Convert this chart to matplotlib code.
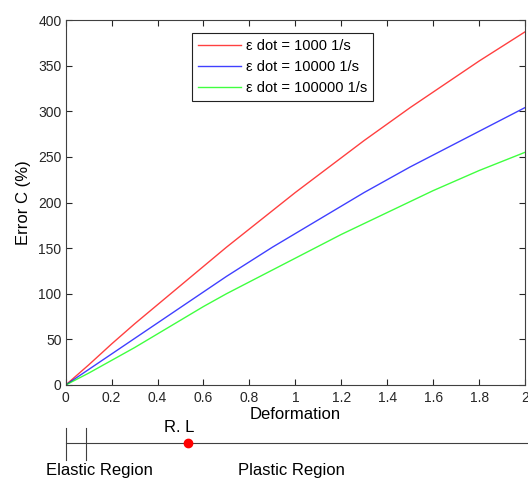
import matplotlib
matplotlib.use("Agg")
import matplotlib.pyplot as plt

plt.rcParams["font.family"] = ["Liberation Sans", "DejaVu Sans"]

# deformation values and error curves
deformation = [0.0, 0.1, 0.2, 0.3, 0.4, 0.5, 0.6, 0.7, 0.8, 0.9, 1.0,
               1.1, 1.2, 1.3, 1.4, 1.5, 1.6, 1.7, 1.8, 1.9, 2.0]
err_1000 = [0, 22, 45, 67, 88, 109, 130, 151, 171, 191, 211,
            230, 249, 268, 286, 304, 321, 338, 355, 371, 387]
err_10000 = [0, 17, 34, 51, 68, 85, 102, 119, 135, 151, 166,
             181, 196, 211, 225, 239, 252, 265, 278, 291, 304]
err_100000 = [0, 13, 27, 41, 56, 71, 86, 100, 113, 126, 139,
              152, 165, 177, 189, 201, 213, 224, 235, 245, 255]
labels = ["\u03b5 dot = 1000 1/s", "\u03b5 dot = 10000 1/s", "\u03b5 dot = 100000 1/s"]
colors = ["#ff0000", "#0000ff", "#00ff00"]

x_ticks = [0, 0.2, 0.4, 0.6, 0.8, 1.0, 1.2, 1.4, 1.6, 1.8, 2.0]
x_ticklabels = ["0", "0.2", "0.4", "0.6", "0.8", "1", "1.2", "1.4", "1.6", "1.8", "2"]
y_ticks = [0, 50, 100, 150, 200, 250, 300, 350, 400]

# region strip
elastic_limit = 0.087
rl_point = 0.533

W, H = 528, 479
fig = plt.figure(figsize=(W / 100, H / 100), dpi=100)
ax = fig.add_axes([65.7 / W, 94 / H, (525 - 65.7) / W, 365 / H])

for y, lab, c in zip([err_1000, err_10000, err_100000], labels, colors):
    ax.plot(deformation, y, color=c, lw=1.0, alpha=0.75, label=lab)

ax.set_xlim(0, 2)
ax.set_ylim(0, 400)
ax.set_xticks(x_ticks)
ax.set_xticklabels(x_ticklabels)
ax.set_yticks(y_ticks)
ax.tick_params(direction="in", length=4, width=0.8, top=True, right=True,
               labelsize=10, colors="#262626", pad=4)
ax.tick_params(axis="y", pad=3)
for s in ax.spines.values():
    s.set_color("#404040")
    s.set_linewidth(0.8)
ax.set_xlabel("Deformation", fontsize=12, labelpad=2)
ax.set_ylabel("Error C (%)", fontsize=12, labelpad=5)

leg = ax.legend(loc="upper left", bbox_to_anchor=(192 / W, 1 - 33 / H),
                bbox_transform=fig.transFigure, borderaxespad=0, fontsize=10.5,
                handlelength=2.95, handletextpad=0.35, labelspacing=0.5,
                fancybox=False, framealpha=1, borderpad=0.4)
leg.get_frame().set_edgecolor("#222222")
leg.get_frame().set_linewidth(0.8)

# strip below the axis
ax2 = fig.add_axes([65.7 / W, 0, (525 - 65.7) / W, 59 / H])
ax2.set_xlim(0, 2)
ax2.set_ylim(0, 1)
ax2.axis("off")
line_y = (479 - 443) / 59
ax2.plot([0, 2.2], [line_y, line_y], color="#404040", lw=0.8, clip_on=False)
for xv in [0, elastic_limit]:
    ax2.plot([xv, xv], [(479 - 460) / 59, (479 - 428) / 59], color="#404040",
             lw=0.8, clip_on=False)
ax2.plot([rl_point], [line_y], "o", color="#ff0000", ms=6, clip_on=False)
ax2.text(0.494, (479 - 428) / 59, "R. L", fontsize=12, ha="center", va="center")
ax2.text(0.149, (479 - 463) / 59, "Elastic Region", fontsize=12, ha="center", va="top")
ax2.text(0.984, (479 - 463) / 59, "Plastic Region", fontsize=12, ha="center", va="top")

fig.savefig("out.png", dpi=100)
